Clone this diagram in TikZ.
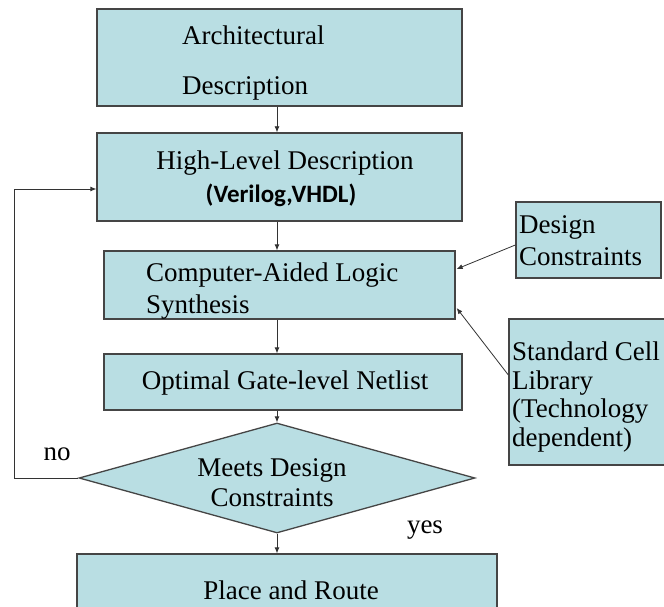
\documentclass[tikz,border=0pt]{standalone}
\usepackage{fontspec}
\setmainfont{Liberation Serif}
\newfontfamily\calib{Carlito}
\usetikzlibrary{shapes.geometric,arrows.meta}
\definecolor{boxfill}{HTML}{B9DEE3}
\definecolor{boxline}{HTML}{454545}
\definecolor{arrline}{HTML}{333333}
\tikzset{
  flowbox/.style={draw=boxline,fill=boxfill,line width=1.3pt,rectangle,inner sep=0pt},
  decide/.style={draw=boxline,fill=boxfill,line width=1.3pt,diamond,inner sep=0pt},
  lbl/.style={inner sep=0pt,font=\fontsize{27}{32}\selectfont},
  arr/.style={draw=arrline,line width=0.8pt,-{Latex[length=6pt,width=5pt]}}
}
\begin{document}
\begin{tikzpicture}[x=1pt,y=-1pt]
\clip (0,0) rectangle (664,607);
\fill[white] (0,0) rectangle (664,607);
% boxes
\node[flowbox,minimum width=365pt,minimum height=97pt] (A) at (279.5,57.5) {};
\node[flowbox,minimum width=365pt,minimum height=88pt] (B) at (279.5,177) {};
\node[flowbox,minimum width=351pt,minimum height=68pt] (C) at (279.5,285) {};
\node[flowbox,minimum width=358pt,minimum height=56pt] (D) at (283,382) {};
\node[decide,minimum width=396pt,minimum height=110pt] (M) at (277,478) {};
\node[flowbox,minimum width=420pt,minimum height=96pt] (P) at (287,602) {};
\node[flowbox,minimum width=145pt,minimum height=76pt] (DC) at (588.5,240) {};
\node[flowbox,minimum width=181pt,minimum height=146pt] (SC) at (599.5,392) {};
% texts
\node[lbl,anchor=west,align=left,font=\fontsize{27}{50}\selectfont] (tA) at (182,63) {Architectural\\Description};
\node[lbl] (tB1) at (285,163) {High-Level Description};
\node[inner sep=0pt,font=\calib\bfseries\fontsize{25}{28}\selectfont] (tB2) at (281,195) {(Verilog,VHDL)};
\node[lbl,anchor=west,align=left] (tC) at (146,291) {Computer-Aided Logic\\Synthesis};
\node[lbl] (tD) at (285,383) {Optimal Gate-level Netlist};
\node[lbl,align=center,font=\fontsize{27}{30}\selectfont] (tM) at (272,483) {Meets Design\\Constraints};
\node[lbl] (tP) at (291,590) {Place and Route};
\node[lbl,anchor=west,align=left] (tDC) at (519,241) {Design\\Constraints};
\node[lbl,anchor=west,align=left,font=\fontsize{27}{28.5}\selectfont] (tSC) at (512,397) {Standard Cell\\Library\\(Technology\\dependent)};
\node[lbl] (tno) at (57,454) {no};
\node[lbl] (tyes) at (425,530) {yes};
% connectors
\coordinate (fbx) at (14,478);
\draw[arr] (A.south -| M.north) -- (B.north -| M.north);
\draw[arr] (B.south -| M.north) -- (C.north -| M.north);
\draw[arr] (C.south -| M.north) -- (D.north -| M.north);
\draw[arr] (D.south -| M.north) -- (M.north);
\draw[arr] (M.south) -- (P.north -| M.south);
\draw[arr] (M.west) -- (fbx) |- ([yshift=-12pt]B.west);
\draw[arr] ([yshift=-5pt]DC.west) -- ([xshift=1pt,yshift=16pt]C.east);
\draw[arr] ([yshift=17pt]SC.west) -- ([xshift=1pt,yshift=-23pt]C.east);
\end{tikzpicture}
\end{document}
